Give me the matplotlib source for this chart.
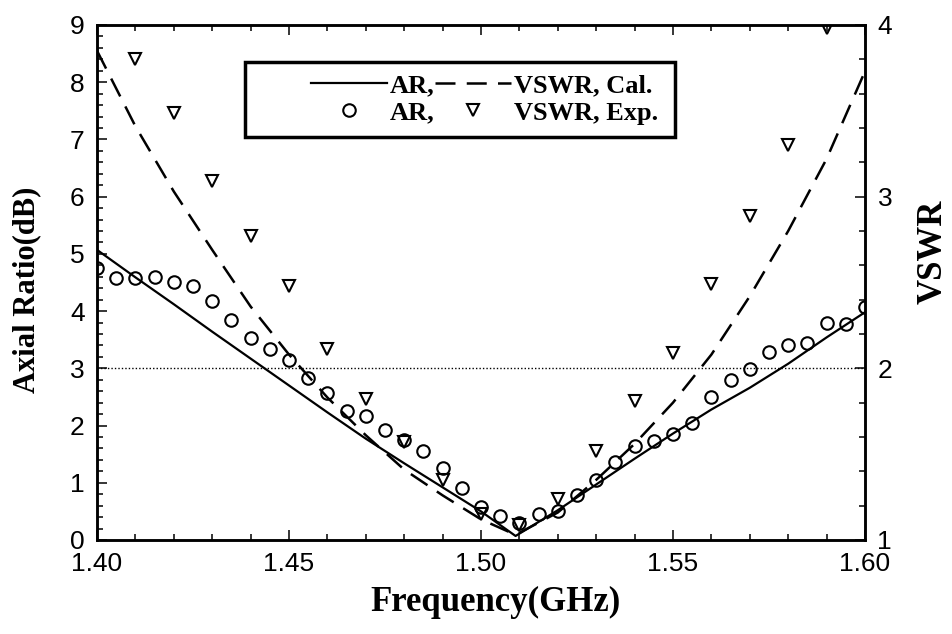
import numpy as np
import matplotlib
matplotlib.use('Agg')
import matplotlib.pyplot as plt
from matplotlib.ticker import MultipleLocator, FormatStrFormatter
from matplotlib.patches import Rectangle

# measured axial ratio (dB), sampled every 5 MHz
ar_freq = [1.400, 1.405, 1.410, 1.415, 1.420, 1.425, 1.430, 1.435, 1.440, 1.445,
           1.450, 1.455, 1.460, 1.465, 1.470, 1.475, 1.480, 1.485, 1.490, 1.495,
           1.500, 1.505, 1.510, 1.515, 1.520, 1.525, 1.530, 1.535, 1.540, 1.545,
           1.550, 1.555, 1.560, 1.565, 1.570, 1.575, 1.580, 1.585, 1.590, 1.595,
           1.600]
ar_exp = [4.75, 4.57, 4.58, 4.60, 4.50, 4.44, 4.17, 3.85, 3.53, 3.33,
          3.15, 2.83, 2.56, 2.26, 2.16, 1.92, 1.74, 1.56, 1.26, 0.91,
          0.58, 0.42, 0.30, 0.46, 0.50, 0.79, 1.05, 1.36, 1.64, 1.73,
          1.86, 2.05, 2.49, 2.80, 2.98, 3.28, 3.40, 3.44, 3.79, 3.78,
          4.08]

# measured VSWR, every 10 MHz
vswr_freq = [1.41, 1.42, 1.43, 1.44, 1.45, 1.46, 1.47, 1.48, 1.49, 1.50,
             1.51, 1.52, 1.53, 1.54, 1.55, 1.56, 1.57, 1.58, 1.59]
vswr_exp = [3.80, 3.49, 3.09, 2.77, 2.48, 2.11, 1.82, 1.57, 1.35, 1.15,
            1.09, 1.24, 1.52, 1.81, 2.09, 2.49, 2.89, 3.30, 3.98]

# calculated curves
cal_freq = [1.40, 1.41, 1.42, 1.43, 1.44, 1.45, 1.46, 1.47, 1.48, 1.49, 1.50,
            1.509, 1.52, 1.53, 1.54, 1.55, 1.56, 1.57, 1.58, 1.59, 1.60]
ar_cal = [5.07, 4.59, 4.12, 3.64, 3.17, 2.70, 2.23, 1.77, 1.34, 0.92, 0.50,
          0.07, 0.52, 0.97, 1.42, 1.86, 2.28, 2.66, 3.08, 3.54, 3.98]
vswr_cal = [3.85, 3.41, 3.03, 2.69, 2.36, 2.08, 1.83, 1.61, 1.41, 1.26, 1.12,
            1.03, 1.16, 1.35, 1.56, 1.80, 2.08, 2.42, 2.80, 3.22, 3.73]

serif = 'Liberation Serif'
sans = 'Liberation Sans'

fig = plt.figure(figsize=(9.52, 6.34), dpi=100)
ax = fig.add_axes([0.1019, 0.1483, 0.8067, 0.8123])
ax2 = ax.twinx()

l1, = ax.plot(cal_freq, ar_cal, '-', color='black', lw=1.6)
l3, = ax.plot(ar_freq, ar_exp, 'o', mfc='none', mec='black', ms=9, mew=1.5)
ax.axhline(3, color='black', lw=1.0, ls=(0, (1, 1.5)))
l2, = ax2.plot(cal_freq, vswr_cal, color='black', lw=1.8, dashes=(8, 4.5))
l4, = ax2.plot(vswr_freq, vswr_exp, 'v', mfc='none', mec='black', ms=9, mew=1.5)

ax.set_xlim(1.40, 1.60)
ax.set_ylim(0, 9)
ax2.set_ylim(1, 4)

ax.xaxis.set_major_locator(MultipleLocator(0.05))
ax.xaxis.set_minor_locator(MultipleLocator(0.01))
ax.xaxis.set_major_formatter(FormatStrFormatter('%.2f'))
ax.yaxis.set_major_locator(MultipleLocator(1))
ax.yaxis.set_minor_locator(MultipleLocator(0.2))
ax2.yaxis.set_major_locator(MultipleLocator(1))
ax2.yaxis.set_minor_locator(MultipleLocator(0.2))

ax.tick_params(which='both', direction='in', top=True, right=False, width=1.1)
ax.tick_params(which='major', length=7, labelsize=19, pad=9)
ax.tick_params(which='minor', length=4)
ax2.tick_params(which='both', direction='in', width=1.1)
ax2.tick_params(which='major', length=7, labelsize=19, pad=9)
ax2.tick_params(which='minor', length=4)
for lab in ax.get_xticklabels() + ax.get_yticklabels() + ax2.get_yticklabels():
    lab.set_fontfamily(sans)

for a in (ax, ax2):
    for sp in a.spines.values():
        sp.set_linewidth(1.8)

ax.set_xlabel('Frequency(GHz)', family=serif, weight='bold', fontsize=25, va='center')
ax.xaxis.set_label_coords(0.5195, -0.1223)
ax.set_ylabel('Axial Ratio(dB)', family=serif, weight='bold', fontsize=22, va='center')
ax.yaxis.set_label_coords(-0.0911, 0.4854)
ax2.set_ylabel('VSWR', family=serif, weight='bold', fontsize=25, va='center')
ax2.yaxis.set_label_coords(1.0885, 0.5592)

leg = ax2.legend([l1, l3, l2, l4], ['AR,', 'AR,', 'VSWR, Cal.', 'VSWR, Exp.'],
                 ncol=2, loc='center right', bbox_to_anchor=(0.7305, 0.856),
                 frameon=False, borderpad=0, borderaxespad=0,
                 handlelength=2.9, handletextpad=0.1, columnspacing=0.0,
                 labelspacing=0.15, prop={'family': serif, 'weight': 'bold', 'size': 19})
ax2.add_patch(Rectangle((0.1927, 0.7825), 0.5599, 0.1456, transform=ax2.transAxes,
                        fill=False, lw=2.5, edgecolor='black', zorder=5))

fig.savefig('out.png', dpi=100)
